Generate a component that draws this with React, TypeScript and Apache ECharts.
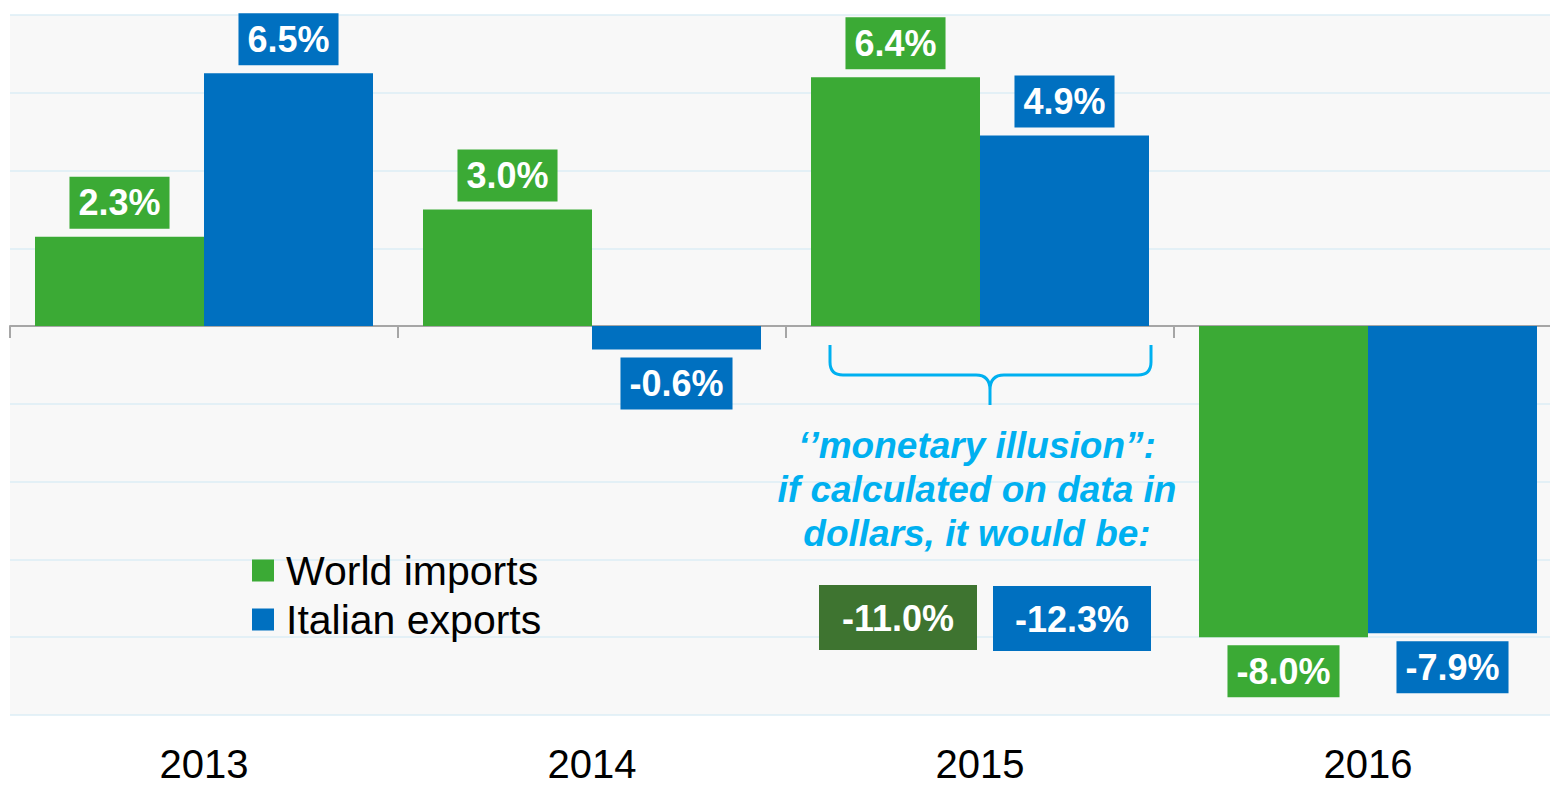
import React, { useEffect, useRef } from "react";
import * as echarts from "echarts";

const years = ["2013", "2014", "2015", "2016"];
const worldImports = [2.3, 3.0, 6.4, -8.0];
const italianExports = [6.5, -0.6, 4.9, -7.9];
const dollarValues = [-11.0, -12.3];
const noteLines = ["‘’monetary illusion”:", "if calculated on data in", "dollars, it would be:"];

const GREEN = "#3BAA35";
const BLUE = "#0070C0";
const DARK_GREEN = "#3E7430";
const CYAN = "#00B0F0";
const FONT = "'Liberation Sans', Arial, sans-serif";

echarts.graphic.registerShape(
  "brace",
  echarts.graphic.extendPath(
    "M830 345 L830 362 Q830 375 843 375 L976 375 Q990 375 990 390 L990 405 M990 390 Q990 375 1004 375 L1138 375 Q1151 375 1151 362 L1151 345",
    {}
  )
);

const fmt = (v: number) => v.toFixed(1) + "%";

export default function App() {
  const ref = useRef<HTMLDivElement>(null);
  useEffect(() => {
    document.body.style.margin = "0";
    const chart = echarts.init(ref.current!, undefined, { renderer: "svg" });
    const barLabel = (color: string) => ({
      show: true,
      position: "outside",
      distance: 8,
      formatter: (p: any) => fmt(p.value),
      color: "#fff",
      fontSize: 36,
      lineHeight: 36,
      fontWeight: "bold",
      fontFamily: FONT,
      backgroundColor: color,
      padding: [8, 9, 8, 9],
    });
    chart.setOption({
      animation: false,
      grid: {
        left: 10,
        width: 1552,
        top: 15,
        bottom: 70,
        outerBoundsMode: "none",
        containLabel: false,
        show: true,
        backgroundColor: "#F8F8F8",
        borderWidth: 0,
      },
      legend: {
        orient: "vertical",
        left: 252,
        top: 550,
        padding: 0,
        itemWidth: 22,
        itemHeight: 22,
        itemGap: 8,
        icon: "rect",
        textStyle: {
          fontSize: 41,
          lineHeight: 40,
          color: "#000",
          fontFamily: FONT,
          padding: [0, 0, 0, 7],
        },
        data: ["World imports", "Italian exports"],
      },
      xAxis: [
        {
          type: "category",
          data: years,
          position: "bottom",
          axisLine: { show: true, onZero: true, lineStyle: { color: "#A6A6A6", width: 2 } },
          axisTick: { show: true, length: 12, lineStyle: { color: "#A6A6A6", width: 2 } },
          axisLabel: { show: false },
          splitLine: { show: false },
        },
        {
          type: "category",
          data: years,
          position: "bottom",
          axisLine: { show: false, onZero: false },
          axisTick: { show: false },
          axisLabel: {
            show: true,
            fontSize: 40,
            lineHeight: 36,
            color: "#000",
            fontFamily: FONT,
            margin: 31,
          },
          splitLine: { show: false },
        },
      ],
      yAxis: {
        type: "value",
        min: -10,
        max: 8,
        interval: 2,
        axisLabel: { show: false },
        axisLine: { show: false },
        axisTick: { show: false },
        splitLine: { show: true, lineStyle: { color: "#DCEEF6", width: 1.5 } },
      },
      series: [
        {
          name: "World imports",
          type: "bar",
          xAxisIndex: 0,
          data: worldImports,
          barWidth: 169,
          barGap: "0%",
          itemStyle: { color: GREEN },
          label: barLabel(GREEN),
        },
        {
          name: "Italian exports",
          type: "bar",
          xAxisIndex: 0,
          data: italianExports,
          barWidth: 169,
          barGap: "0%",
          itemStyle: { color: BLUE },
          label: barLabel(BLUE),
        },
      ],
      graphic: [
        {
          type: "brace",
          x: 0,
          y: 0,
          z: 10,
          style: { stroke: CYAN, lineWidth: 3, fill: "none" },
        },
        {
          type: "text",
          x: 977,
          y: 423,
          z: 10,
          style: {
            text: noteLines.join("\n"),
            fill: CYAN,
            fontSize: 37,
            lineHeight: 44,
            fontWeight: "bold",
            fontStyle: "italic",
            fontFamily: FONT,
            align: "center",
            verticalAlign: "top",
          },
        },
        {
          type: "rect",
          z: 10,
          shape: { x: 819, y: 585, width: 158, height: 65 },
          style: { fill: DARK_GREEN },
        },
        {
          type: "text",
          x: 898,
          y: 618,
          z: 11,
          style: {
            text: fmt(dollarValues[0]),
            fill: "#fff",
            fontSize: 36,
            fontWeight: "bold",
            fontFamily: FONT,
            align: "center",
            verticalAlign: "middle",
          },
        },
        {
          type: "rect",
          z: 10,
          shape: { x: 993, y: 586, width: 158, height: 65 },
          style: { fill: BLUE },
        },
        {
          type: "text",
          x: 1072,
          y: 619,
          z: 11,
          style: {
            text: fmt(dollarValues[1]),
            fill: "#fff",
            fontSize: 36,
            fontWeight: "bold",
            fontFamily: FONT,
            align: "center",
            verticalAlign: "middle",
          },
        },
      ],
    });
    return () => chart.dispose();
  }, []);
  return (
    <div
      ref={ref}
      style={{ position: "absolute", left: 0, top: 0, width: 1550, height: 785 }}
    />
  );
}
